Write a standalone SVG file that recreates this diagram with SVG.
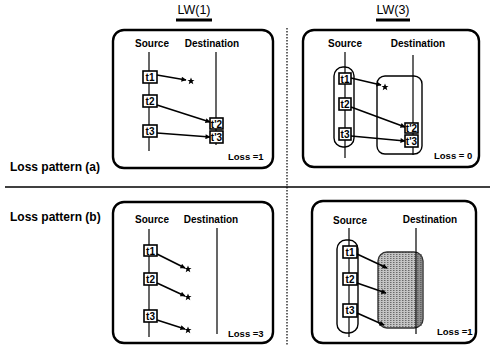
<svg xmlns="http://www.w3.org/2000/svg" width="494" height="349" viewBox="0 0 494 349">
  <defs>
    <style>
      text { font-family: "Liberation Sans", Arial, sans-serif; fill: #000; }
      .title { font-size: 12.5px; text-anchor: middle; }
      .lbl { font-size: 10px; font-weight: bold; text-anchor: middle; }
      .row { font-size: 12px; font-weight: bold; }
      .tk { font-size: 10px; font-weight: bold; text-anchor: middle; }
      .loss { font-size: 9.5px; font-weight: bold; }
      .panel { fill: #fff; stroke: #000; stroke-width: 2.4; }
      .axis { stroke: #000; stroke-width: 1.2; fill: none; }
      .box { fill: #fff; stroke: #000; stroke-width: 1.6; }
      .group { fill: none; stroke: #000; stroke-width: 1.4; }
      .arrow { stroke: #000; stroke-width: 1.6; fill: none; marker-end: url(#head); }
      .bar { stroke: #000; stroke-width: 3; }
    </style>
    <marker id="head" viewBox="0 0 10 10" refX="9" refY="5" markerWidth="6" markerHeight="5" orient="auto" markerUnits="userSpaceOnUse">
      <path d="M0,0 L10,5 L0,10 z" fill="#000"/>
    </marker>
    <pattern id="stipple" width="3" height="2" patternUnits="userSpaceOnUse">
      <rect width="3" height="2" fill="#c4c4c4"/>
      <rect x="0" y="0" width="1.5" height="1" fill="#6a6a6a"/>
    </pattern>
    <symbol id="star" viewBox="-5 -5 10 10" overflow="visible">
      <path d="M0,-3.5 L1,-1 L3.5,-1 L1.5,0.6 L2.3,3.3 L0,1.7 L-2.3,3.3 L-1.5,0.6 L-3.5,-1 L-1,-1 z" fill="#000"/>
    </symbol>
  </defs>

  <rect width="494" height="349" fill="#fff"/>

  <!-- column titles -->
  <g id="title-lw1">
    <text class="title" x="194" y="14">LW(1)</text>
    <line class="bar" x1="176" y1="20" x2="212" y2="20"/>
  </g>
  <g id="title-lw3">
    <text class="title" x="393" y="14">LW(3)</text>
    <line class="bar" x1="376" y1="20" x2="410" y2="20"/>
  </g>

  <!-- row labels -->
  <text class="row" x="10" y="171">Loss pattern (a)</text>
  <text class="row" x="10" y="221">Loss pattern (b)</text>

  <!-- dividers -->
  <line x1="5" y1="187" x2="490" y2="187" stroke="#000" stroke-width="1.6"/>
  <line x1="287" y1="28" x2="287" y2="346" stroke="#000" stroke-width="1.2" stroke-dasharray="1.5 1.5"/>

  <!-- Panel (a) LW(1) -->
  <g id="panel-a1">
    <rect class="panel" x="113" y="30" width="160" height="138" rx="11"/>
    <text class="lbl" x="152" y="47">Source</text>
    <text class="lbl" x="212" y="47">Destination</text>
    <line class="axis" x1="149" y1="52" x2="149" y2="151"/>
    <line class="axis" x1="216" y1="52" x2="216" y2="145"/>
  </g>
  <g id="a1-t1"><rect class="box" x="143" y="71" width="14" height="12"/><text class="tk" x="150" y="80.5">t1</text></g>
  <g id="a1-t2"><rect class="box" x="143" y="95" width="14" height="12"/><text class="tk" x="150" y="104.5">t2</text></g>
  <g id="a1-t3"><rect class="box" x="143" y="125" width="14" height="12"/><text class="tk" x="150" y="134.5">t3</text></g>
  <g id="a1-rt2"><rect class="box" x="210" y="118" width="13" height="11"/><text class="tk" x="216.5" y="127.5">t'2</text></g>
  <g id="a1-rt3"><rect class="box" x="210" y="131" width="13" height="12"/><text class="tk" x="216.5" y="140.5">t'3</text></g>
  <g id="a1-lost"><use href="#star" x="186" y="76" width="10" height="10"/></g>
  <text class="loss" x="228" y="160">Loss =1</text>

  <!-- Panel (a) LW(3) -->
  <g id="panel-a3">
    <rect class="panel" x="303" y="30" width="176" height="137" rx="11"/>
    <text class="lbl" x="345" y="47">Source</text>
    <text class="lbl" x="418" y="47">Destination</text>
    <line class="axis" x1="345" y1="52" x2="345" y2="158"/>
    <line class="axis" x1="413" y1="55" x2="413" y2="155"/>
    <rect class="group" x="334" y="67" width="20" height="80" rx="9"/>
    <rect class="group" x="377" y="76" width="45" height="78" rx="8"/>
  </g>
  <g id="a3-t1"><rect class="box" x="339" y="73" width="12" height="11"/><text class="tk" x="345" y="82.5">t1</text></g>
  <g id="a3-t2"><rect class="box" x="339" y="98" width="12" height="12"/><text class="tk" x="345" y="107.5">t2</text></g>
  <g id="a3-t3"><rect class="box" x="339" y="128" width="12" height="12"/><text class="tk" x="345" y="137.5">t3</text></g>
  <g id="a3-rt2"><rect class="box" x="405" y="123" width="13" height="10"/><text class="tk" x="411.5" y="131.5">t'2</text></g>
  <g id="a3-rt3"><rect class="box" x="405" y="135" width="13" height="12"/><text class="tk" x="411.5" y="144.5">t'3</text></g>
  <g id="a3-lost"><use href="#star" x="380" y="82" width="10" height="10"/></g>
  <text class="loss" x="434" y="159">Loss = 0</text>

  <!-- Panel (b) LW(1) -->
  <g id="panel-b1">
    <rect class="panel" x="113" y="202" width="160" height="141" rx="11"/>
    <text class="lbl" x="152" y="223">Source</text>
    <text class="lbl" x="211" y="223">Destination</text>
    <line class="axis" x1="149" y1="229" x2="149" y2="337"/>
    <line class="axis" x1="217" y1="228" x2="217" y2="334"/>
  </g>
  <g id="b1-t1"><rect class="box" x="144" y="245" width="13" height="11"/><text class="tk" x="150.5" y="254.5">t1</text></g>
  <g id="b1-t2"><rect class="box" x="144" y="273" width="13" height="12"/><text class="tk" x="150.5" y="282.5">t2</text></g>
  <g id="b1-t3"><rect class="box" x="144" y="310" width="13" height="12"/><text class="tk" x="150.5" y="319.5">t3</text></g>
  <g id="b1-lost1"><use href="#star" x="183" y="264" width="10" height="10"/></g>
  <g id="b1-lost2"><use href="#star" x="183" y="292" width="10" height="10"/></g>
  <g id="b1-lost3"><use href="#star" x="183" y="325" width="10" height="10"/></g>
  <text class="loss" x="228" y="337">Loss =3</text>

  <!-- Panel (b) LW(3) -->
  <g id="panel-b3">
    <rect class="panel" x="312" y="201" width="164" height="142" rx="11"/>
    <text class="lbl" x="350" y="224">Source</text>
    <text class="lbl" x="430" y="223">Destination</text>
    <line class="axis" x1="349" y1="228" x2="349" y2="337"/>
    <rect class="group" x="337" y="240" width="21" height="93" rx="9"/>
    <rect x="378" y="252" width="45" height="76" rx="9" fill="url(#stipple)" stroke="#333" stroke-width="1.4"/>
    <rect x="417" y="254" width="5" height="72" fill="#555" opacity="0.5"/>
    <line class="axis" x1="416" y1="228" x2="416" y2="334"/>
  </g>
  <g id="b3-t1"><rect class="box" x="343" y="246" width="14" height="12"/><text class="tk" x="350" y="255.5">t1</text></g>
  <g id="b3-t2"><rect class="box" x="343" y="273" width="14" height="12"/><text class="tk" x="350" y="282.5">t2</text></g>
  <g id="b3-t3"><rect class="box" x="343" y="304" width="14" height="13"/><text class="tk" x="350" y="314">t3</text></g>
  <text class="loss" x="437" y="335">Loss =1</text>

  <!-- connectors -->
  <g id="connectors">
    <line class="arrow" x1="157" y1="75" x2="186" y2="80"/>
    <line class="arrow" x1="157" y1="105" x2="210" y2="122"/>
    <line class="arrow" x1="157" y1="133" x2="210" y2="137"/>

    <line class="arrow" x1="351" y1="78" x2="381" y2="85"/>
    <line class="arrow" x1="351" y1="107" x2="405" y2="127"/>
    <line class="arrow" x1="351" y1="136" x2="405" y2="141"/>

    <line class="arrow" x1="157" y1="254" x2="185" y2="268"/>
    <line class="arrow" x1="157" y1="283" x2="185" y2="296"/>
    <line class="arrow" x1="157" y1="320" x2="185" y2="329"/>

    <line class="arrow" x1="357" y1="254" x2="387" y2="268"/>
    <line class="arrow" x1="357" y1="283" x2="386" y2="293"/>
    <line class="arrow" x1="357" y1="313" x2="384" y2="325"/>
  </g>
</svg>
